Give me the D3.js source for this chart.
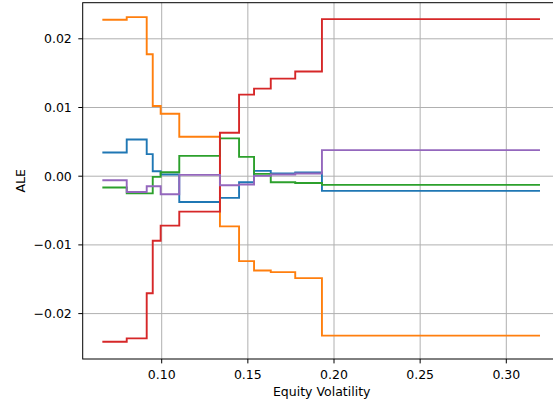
<!DOCTYPE html>
<html>
<head>
<meta charset="utf-8">
<script src="https://cdn.jsdelivr.net/npm/d3@7"></script>
<style>
  html, body { margin: 0; padding: 0; background: #fff; }
  svg { display: block; }
  text { font-family: "DejaVu Sans", sans-serif; fill: #000; }
</style>
</head>
<body>
<svg id="chart" width="553" height="404"></svg>
<script>
// Bin edges (Equity Volatility)
const edges = [0.0661, 0.0797, 0.0913, 0.0948, 0.0994, 0.1102, 0.1338,
               0.1449, 0.1536, 0.1633, 0.1775, 0.1930, 0.3190];
// ALE values per bin for each series
const seriesBlue   = [0.00346, 0.00535, 0.00321, 0.00073, 0.00025, -0.00375, -0.00316, -0.00088, 0.00077, 0.00039, 0.00054, -0.00214];
const seriesOrange = [0.02277, 0.02316, 0.01776, 0.01022, 0.00910, 0.00574, -0.00730, -0.01236, -0.01372, -0.01397, -0.01484, -0.02321];
const seriesGreen  = [-0.00165, -0.00250, -0.00250, -0.00010, 0.00058, 0.00296, 0.00550, 0.00282, 0.00034, -0.00088, -0.00098, -0.00126];
const seriesRed    = [-0.02409, -0.02360, -0.01703, -0.00939, -0.00720, -0.00516, 0.00633, 0.01187, 0.01275, 0.01420, 0.01523, 0.02287];
const seriesPurple = [-0.00058, -0.00229, -0.00146, -0.00146, -0.00263, 0.00020, -0.00131, -0.00121, 0.00005, 0.00024, 0.00040, 0.00380];
const colors = ["#1f77b4", "#ff7f0e", "#2ca02c", "#d62728", "#9467bd"];
const xTicks = [0.10, 0.15, 0.20, 0.25, 0.30];
const yTicks = [-0.02, -0.01, 0.00, 0.01, 0.02];
const xLabel = "Equity Volatility";
const yLabel = "ALE";

(function () {
const svg = d3.select("#chart");
const pLeft = 82.7, pTop = 2.7, pBottom = 359, pRight = 560.8;
const fs = 12.5;

const x = d3.scaleLinear().domain([0.1, 0.3]).range([161.7, 506.3]);
const y = d3.scaleLinear().domain([-0.02, 0.02]).range([313.6, 38.8]);

// grid
const g = svg.append("g");
g.selectAll("line.gx").data(xTicks).join("line")
  .attr("x1", d => x(d)).attr("x2", d => x(d))
  .attr("y1", pTop).attr("y2", pBottom)
  .attr("stroke", "#b0b0b0").attr("stroke-width", 1);
g.selectAll("line.gy").data(yTicks).join("line")
  .attr("x1", pLeft).attr("x2", pRight)
  .attr("y1", d => y(d)).attr("y2", d => y(d))
  .attr("stroke", "#b0b0b0").attr("stroke-width", 1);

// lines
const series = [seriesBlue, seriesOrange, seriesGreen, seriesRed, seriesPurple];
const line = d3.line().x(d => x(d[0])).y(d => y(d[1])).curve(d3.curveStepAfter);
series.forEach((vals, i) => {
  const pts = vals.map((v, j) => [edges[j], v]);
  pts.push([edges[edges.length - 1], vals[vals.length - 1]]);
  svg.append("path").datum(pts)
    .attr("d", line)
    .attr("fill", "none")
    .attr("stroke", colors[i])
    .attr("stroke-width", 1.9)
    .attr("stroke-linejoin", "miter")
    .attr("stroke-linecap", "square");
});

// spines
svg.append("rect")
  .attr("x", pLeft).attr("y", pTop)
  .attr("width", pRight - pLeft).attr("height", pBottom - pTop)
  .attr("fill", "none").attr("stroke", "#000").attr("stroke-width", 1);

// x ticks
xTicks.forEach(t => {
  svg.append("line").attr("x1", x(t)).attr("x2", x(t))
    .attr("y1", pBottom).attr("y2", pBottom + 4.4)
    .attr("stroke", "#000").attr("stroke-width", 1);
  svg.append("text").attr("x", x(t)).attr("y", 378.6)
    .attr("text-anchor", "middle").attr("font-size", fs)
    .text(d3.format(".2f")(t));
});
// y ticks
yTicks.forEach(t => {
  svg.append("line").attr("x1", pLeft - 4.4).attr("x2", pLeft)
    .attr("y1", y(t)).attr("y2", y(t))
    .attr("stroke", "#000").attr("stroke-width", 1);
  svg.append("text").attr("x", 71.8).attr("y", y(t) + 4.5)
    .attr("text-anchor", "end").attr("font-size", fs)
    .text(d3.format(".2f")(t).replace("-", "\u2212"));
});

// axis labels
svg.append("text").attr("x", 321.7).attr("y", 395.5)
  .attr("text-anchor", "middle").attr("font-size", fs).text(xLabel);
svg.append("text")
  .attr("transform", "translate(24.5," + ((pTop + pBottom) / 2) + ") rotate(-90)")
  .attr("text-anchor", "middle").attr("font-size", fs).text(yLabel);
})();
</script>
</body>
</html>
